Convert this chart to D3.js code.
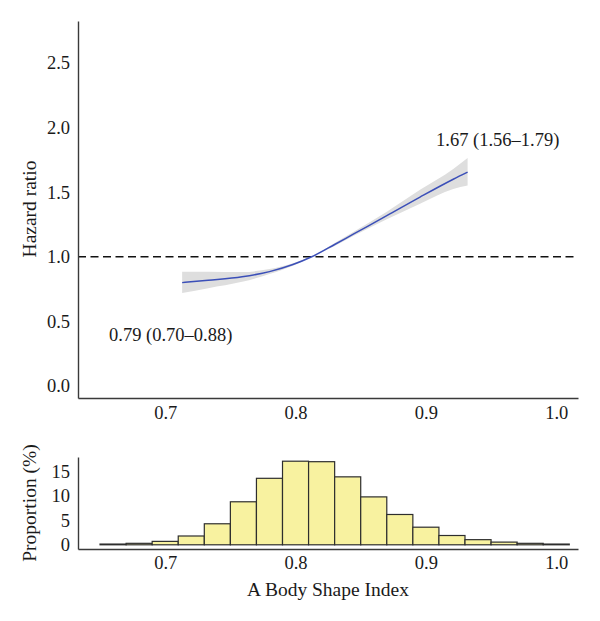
<!DOCTYPE html>
<html>
<head>
<meta charset="utf-8">
<script src="https://cdn.jsdelivr.net/npm/d3@7"></script>
<style>
  body { margin: 0; background: #fff; }
  svg { display: block; font-family: "Liberation Serif", "DejaVu Serif", serif; }
</style>
</head>
<body>
<div id="chart"></div>
<script>
// spline estimate of hazard ratio along ABSI
const absi  = [0.713, 0.733, 0.759, 0.780, 0.798, 0.8124, 0.830, 0.8443, 0.870, 0.8955, 0.921, 0.932];
const hr    = [0.800, 0.818, 0.845, 0.885, 0.940, 1.000, 1.095, 1.175, 1.318, 1.462, 1.600, 1.655];
const lower = [0.720, 0.757, 0.806, 0.866, 0.930, 1.000, 1.084, 1.160, 1.290, 1.410, 1.525, 1.552];
const upper = [0.885, 0.884, 0.882, 0.905, 0.950, 1.000, 1.106, 1.192, 1.348, 1.518, 1.680, 1.765];

// histogram bins (width 0.02) and proportions in %
const binStart = [0.65, 0.67, 0.69, 0.71, 0.73, 0.75, 0.77, 0.79, 0.81, 0.83, 0.85, 0.87, 0.89, 0.91, 0.93, 0.95, 0.97, 0.99];
const binPct   = [0.15, 0.3, 0.7, 1.8, 4.3, 8.8, 13.6, 17.1, 17.0, 13.9, 9.8, 6.2, 3.6, 1.9, 1.05, 0.55, 0.3, 0.15];
const binWidth = 0.02;

const xTicks = [0.7, 0.8, 0.9, 1.0];
const hrTicks = [0, 0.5, 1.0, 1.5, 2.0, 2.5];
const pctTicks = [0, 5, 10, 15];

const labelStart = '0.79 (0.70\u20130.88)';
const labelEnd = '1.67 (1.56\u20131.79)';

const width = 600, height = 621;
const left = 78, right = 578;

const svg = d3.select('#chart').append('svg')
  .attr('width', width)
  .attr('height', height);

const x = d3.scaleLinear().domain([0.6331, 1.0167]).range([left, right]);
const y = d3.scaleLinear().domain([-0.093, 2.825]).range([398, 21]);
const yh = d3.scaleLinear().domain([-0.86, 17.96]).range([549, 457]);

const ink = '#1a1a1a';
const axisColor = '#3a3a3a';

function styleAxis(g) {
  g.attr('font-family', null).attr('font-size', null);
  g.select('.domain').attr('stroke', axisColor).attr('stroke-width', 1.4);
  g.selectAll('text').attr('fill', ink).style('font-size', '18.5px');
}

// ---- top panel ----
const rows = absi.map((v, i) => ({ v: v, hr: hr[i], lo: lower[i], hi: upper[i] }));

svg.append('path')
  .datum(rows)
  .attr('fill', '#dedede')
  .attr('d', d3.area()
    .curve(d3.curveMonotoneX)
    .x(d => x(d.v))
    .y0(d => y(d.lo))
    .y1(d => y(d.hi)));

svg.append('line')
  .attr('x1', left).attr('x2', right)
  .attr('y1', y(1)).attr('y2', y(1))
  .attr('stroke', '#111')
  .attr('stroke-width', 1.5)
  .attr('stroke-dasharray', '8,4.5');

svg.append('path')
  .datum(rows)
  .attr('fill', 'none')
  .attr('stroke', '#3b4fb8')
  .attr('stroke-width', 1.5)
  .attr('d', d3.line()
    .curve(d3.curveMonotoneX)
    .x(d => x(d.v))
    .y(d => y(d.hr)));

svg.append('g')
  .attr('transform', 'translate(' + left + ',0)')
  .call(d3.axisLeft(y).tickValues(hrTicks).tickFormat(d3.format('.1f'))
    .tickSizeInner(0).tickSizeOuter(0).tickPadding(8))
  .call(styleAxis);

svg.append('g')
  .attr('transform', 'translate(0,398)')
  .call(d3.axisBottom(x).tickValues(xTicks).tickFormat(d3.format('.1f'))
    .tickSizeInner(0).tickSizeOuter(0).tickPadding(8))
  .call(styleAxis);

svg.append('text')
  .attr('x', 109).attr('y', 341)
  .attr('fill', ink)
  .style('font-size', '18.5px')
  .text(labelStart);

svg.append('text')
  .attr('x', 436).attr('y', 146)
  .attr('fill', ink)
  .style('font-size', '18.5px')
  .text(labelEnd);

svg.append('text')
  .attr('transform', 'translate(36,209) rotate(-90)')
  .attr('text-anchor', 'middle')
  .attr('fill', ink)
  .style('font-size', '19.5px')
  .text('Hazard ratio');

// ---- histogram panel ----
svg.append('g')
  .selectAll('rect')
  .data(binStart)
  .enter()
  .append('rect')
  .attr('x', d => x(d))
  .attr('width', d => x(d + binWidth) - x(d))
  .attr('y', (d, i) => yh(binPct[i]))
  .attr('height', (d, i) => yh(0) - yh(binPct[i]))
  .attr('fill', '#f8f2a0')
  .attr('stroke', '#2e2e2e')
  .attr('stroke-width', 1.2);

svg.append('g')
  .attr('transform', 'translate(' + left + ',0)')
  .call(d3.axisLeft(yh).tickValues(pctTicks)
    .tickSizeInner(0).tickSizeOuter(0).tickPadding(8))
  .call(styleAxis);

svg.append('g')
  .attr('transform', 'translate(0,549)')
  .call(d3.axisBottom(x).tickValues(xTicks).tickFormat(d3.format('.1f'))
    .tickSizeInner(0).tickSizeOuter(0).tickPadding(7))
  .call(styleAxis);

svg.append('text')
  .attr('transform', 'translate(36,503) rotate(-90)')
  .attr('text-anchor', 'middle')
  .attr('fill', ink)
  .style('font-size', '19.5px')
  .text('Proportion (%)');

svg.append('text')
  .attr('x', (left + right) / 2).attr('y', 596)
  .attr('text-anchor', 'middle')
  .attr('fill', ink)
  .style('font-size', '19.5px')
  .text('A Body Shape Index');
</script>
</body>
</html>
